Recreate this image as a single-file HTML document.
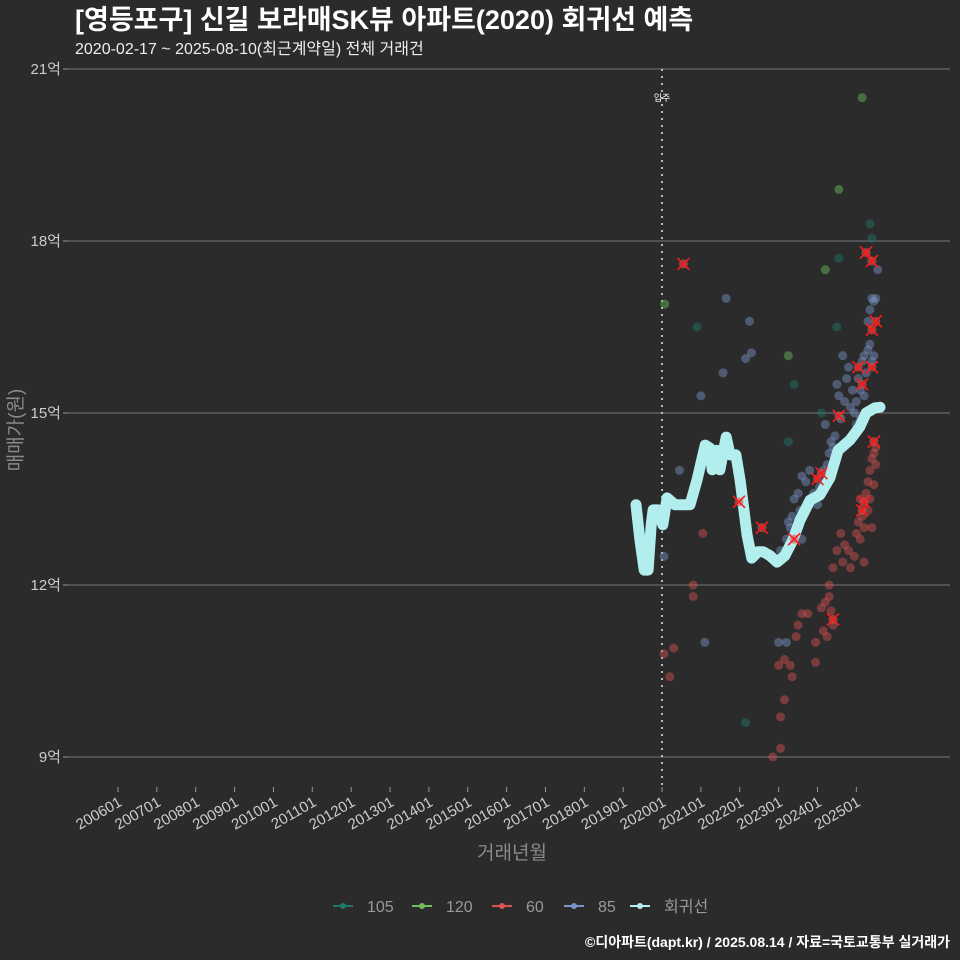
<!DOCTYPE html>
<html><head><meta charset="utf-8">
<style>
html,body{margin:0;padding:0;background:#2b2b2c;}
body{width:960px;height:960px;overflow:hidden;font-family:"Liberation Sans","Noto Sans CJK KR",sans-serif;}
svg{display:block;}
svg text{font-family:"Liberation Sans","Noto Sans CJK KR",sans-serif;}
</style></head>
<body>
<svg id="chart" width="960" height="960" xmlns="http://www.w3.org/2000/svg">
<rect width="960" height="960" fill="#2b2b2c"/>
<text x="75" y="29" font-size="27" font-weight="bold" fill="#ffffff">[영등포구] 신길 보라매SK뷰 아파트(2020) 회귀선 예측</text>
<text x="75" y="54" font-size="16" fill="#eeeeee">2020-02-17 ~ 2025-08-10(최근계약일) 전체 거래건</text>
<g id="grid"></g><g id="yaxis"></g><g id="xaxis"></g><g id="marks"></g>
<text x="0" y="0" transform="translate(22,430) rotate(-90)" text-anchor="middle" font-size="19" fill="#8a8a8a">매매가(원)</text>
<text x="512" y="859" text-anchor="middle" font-size="19" fill="#8a8a8a">거래년월</text>
<g id="legend"></g>
<text x="950" y="947" text-anchor="end" font-size="14" font-weight="bold" fill="#ffffff">©디아파트(dapt.kr) / 2025.08.14 / 자료=국토교통부 실거래가</text>
</svg>
<script>
const yTicks=[9,12,15,18,21];
const yTickLabels=["9억","12억","15억","18억","21억"];
const xTickYears=[2006,2007,2008,2009,2010,2011,2012,2013,2014,2015,2016,2017,2018,2019,2020,2021,2022,2023,2024,2025];
const xTickLabels=["200601","200701","200801","200901","201001","201101","201201","201301","201401","201501","201601","201701","201801","201901","202001","202101","202201","202301","202401","202501"];
const moveInYear=2020.0;
const s105=[[2025.35,18.3],[2025.4,18.05],[2024.55,17.7],[2020.9,16.5],[2024.5,16.5],[2023.4,15.5],[2024.1,15.0],[2023.25,14.5],[2022.15,9.6],[2021.9,14.3]];
const s120=[[2025.15,20.5],[2024.55,18.9],[2024.2,17.5],[2020.07,16.9],[2023.25,16.0]];
const s60=[[2020.05,10.8],[2020.3,10.9],[2020.2,10.4],[2020.8,12.0],[2020.8,11.8],[2021.05,12.9],[2022.85,9.0],[2023.05,9.15],[2023.05,9.7],[2023.15,10.0],[2023.0,10.6],[2023.15,10.7],[2023.3,10.6],[2023.35,10.4],[2023.45,11.1],[2023.5,11.3],[2023.6,11.5],[2023.75,11.5],[2023.95,10.65],[2023.95,11.0],[2024.1,11.6],[2024.2,11.7],[2024.3,11.8],[2024.3,12.0],[2024.25,11.1],[2024.15,11.2],[2024.35,11.55],[2024.4,11.3],[2024.4,12.3],[2024.5,12.6],[2024.6,12.9],[2024.7,12.7],[2024.8,12.6],[2024.95,12.5],[2025.0,12.9],[2025.05,13.1],[2025.1,12.8],[2025.15,13.2],[2025.2,13.0],[2025.25,13.6],[2025.3,13.8],[2025.35,13.5],[2025.35,14.0],[2025.4,14.2],[2025.45,14.3],[2025.5,14.1],[2025.3,13.3],[2025.4,13.0],[2025.2,12.4],[2025.1,13.5],[2024.65,12.4],[2024.85,12.3],[2025.45,13.75],[2025.5,14.4]];
const s85=[[2021.65,17.0],[2022.25,16.6],[2022.15,15.95],[2022.3,16.05],[2021.57,15.7],[2021.0,15.3],[2020.45,14.0],[2021.1,11.0],[2020.05,12.5],[2023.0,11.0],[2023.2,11.0],[2023.0,12.4],[2023.05,12.6],[2023.1,12.5],[2023.2,12.8],[2023.25,13.1],[2023.35,13.2],[2023.4,13.5],[2023.5,13.6],[2023.55,13.3],[2023.6,13.9],[2023.7,13.8],[2023.8,14.0],[2023.3,13.0],[2023.45,12.9],[2024.05,13.7],[2024.15,14.0],[2024.25,14.1],[2024.3,14.3],[2024.35,14.5],[2024.4,14.4],[2024.45,14.6],[2024.5,14.2],[2024.55,15.3],[2024.5,15.5],[2024.6,14.9],[2024.7,15.2],[2024.75,15.6],[2024.8,15.8],[2024.9,15.4],[2024.95,15.0],[2025.0,15.2],[2025.05,15.6],[2025.1,15.4],[2025.15,15.9],[2025.2,16.0],[2025.25,15.7],[2025.3,16.1],[2025.35,16.2],[2025.4,15.9],[2025.45,16.0],[2025.3,16.6],[2025.35,16.8],[2025.4,17.0],[2025.5,17.0],[2025.55,17.5],[2025.45,16.95],[2025.2,15.3],[2025.3,15.0],[2025.1,14.9],[2025.0,14.8],[2024.85,15.1],[2024.2,14.8],[2023.9,13.6],[2024.0,13.4],[2023.6,12.8],[2024.65,16.0],[2024.3,13.9]];
const sX=[[2020.55,17.6],[2025.25,17.8],[2025.4,17.65],[2025.5,16.6],[2025.4,16.45],[2025.05,15.8],[2025.4,15.8],[2025.15,15.5],[2024.55,14.95],[2025.45,14.5],[2024.0,13.85],[2024.1,13.95],[2021.98,13.45],[2022.57,13.0],[2023.4,12.8],[2024.4,11.4],[2025.2,13.45],[2025.15,13.3]];
const regYears=[2019.33,2019.43,2019.54,2019.64,2019.72,2019.77,2019.90,2020.02,2020.13,2020.33,2020.72,2020.90,2021.11,2021.23,2021.29,2021.41,2021.49,2021.65,2021.75,2021.83,2021.90,2022.01,2022.19,2022.31,2022.47,2022.60,2022.78,2022.96,2023.16,2023.37,2023.55,2023.81,2024.06,2024.32,2024.53,2024.84,2025.09,2025.25,2025.48,2025.61];
const regValues=[13.40,12.79,12.26,12.26,13.05,13.31,13.31,13.05,13.52,13.40,13.40,13.83,14.44,14.39,14.01,14.35,14.01,14.58,14.27,14.27,14.27,13.83,12.87,12.47,12.58,12.58,12.51,12.40,12.51,12.79,13.13,13.48,13.57,13.87,14.35,14.53,14.76,15.00,15.09,15.10];

const NS="http://www.w3.org/2000/svg";
const xS=t=>118+(t-2006)*38.86;
const yS=v=>757-(v-9)*57.333;
function mk(tag,attrs,parent){const e=document.createElementNS(NS,tag);for(const k in attrs)e.setAttribute(k,attrs[k]);document.getElementById(parent).appendChild(e);return e;}

yTicks.forEach((v,i)=>{
  const l=mk('line',{x1:68,x2:950,y1:yS(v),y2:yS(v),stroke:'#777','stroke-width':1},'grid');
  
  
  const tk=mk('line',{x1:63,x2:68,y1:yS(v),y2:yS(v),stroke:'#999'},'yaxis');
  
  
  const t=mk('text',{x:61,y:yS(v)+5,'text-anchor':'end','font-size':15,fill:'#cccccc'},'yaxis');
  t.textContent=yTickLabels[i];
  
  
});
xTickYears.forEach((yr,i)=>{
  const x=xS(yr);
  const tk=mk('line',{x1:x,x2:x,y1:787,y2:792,stroke:'#999'},'xaxis');
  
  
  const t=mk('text',{x:0,y:0,transform:`translate(${x+5},${805}) rotate(-30)`,'text-anchor':'end','font-size':15,fill:'#cccccc'},'xaxis');
  t.textContent=xTickLabels[i];
  
  
});
const mv=mk('line',{x1:xS(moveInYear),x2:xS(moveInYear),y1:69,y2:790,stroke:'#bbbbbb','stroke-width':2,'stroke-dasharray':'2,5'},'marks');


const mvt=mk('text',{x:xS(moveInYear),y:101,'text-anchor':'middle','font-size':9,fill:'#ffffff'},'marks');
mvt.textContent='입주';



function pts(arr,color,name){arr.forEach(p=>{
  const c=mk('circle',{cx:xS(p[0]),cy:yS(p[1]),r:4.5,fill:color,'fill-opacity':0.45},'marks');
  
  
});}
pts(s60,'#d9534f','point-60');
pts(s85,'#7a96c8','point-85');
pts(s105,'#1f7a6a','point-105');
pts(s120,'#6fbf5f','point-120');

const d=regYears.map((t,i)=>(i?'L':'M')+xS(t).toFixed(1)+','+yS(regValues[i]).toFixed(1)).join(' ');
const rl=mk('path',{d:d,fill:'none',stroke:'#b2eeee','stroke-width':11,'stroke-linejoin':'round','stroke-linecap':'round'},'marks');



sX.forEach(p=>{
  const x=xS(p[0]),y=yS(p[1]);
  const c=mk('circle',{cx:x,cy:y,r:4.5,fill:'#d9534f','fill-opacity':0.6},'marks');
  
  
  const g=mk('path',{d:`M${x-6},${y-6}L${x+6},${y+6}M${x-6},${y+6}L${x+6},${y-6}`,stroke:'#ff1a1a','stroke-width':1.6},'marks');
  
  
});

const legItems=[["105","#1f7a6a",333],["120","#6fbf5f",412],["60","#d9534f",492],["85","#7a96c8",564],["회귀선","#b2eeee",630]];
legItems.forEach(it=>{
  const x=it[2];
  const l=mk('line',{x1:x,x2:x+20,y1:906,y2:906,stroke:it[1],'stroke-width':2},'legend');
  
  
  const c=mk('circle',{cx:x+10,cy:906,r:3,fill:it[1]},'legend');
  
  
  const t=mk('text',{x:x+34,y:912,'font-size':16,fill:'#999999'},'legend');
  t.textContent=it[0];
  
  
});
</script>
</body></html>
